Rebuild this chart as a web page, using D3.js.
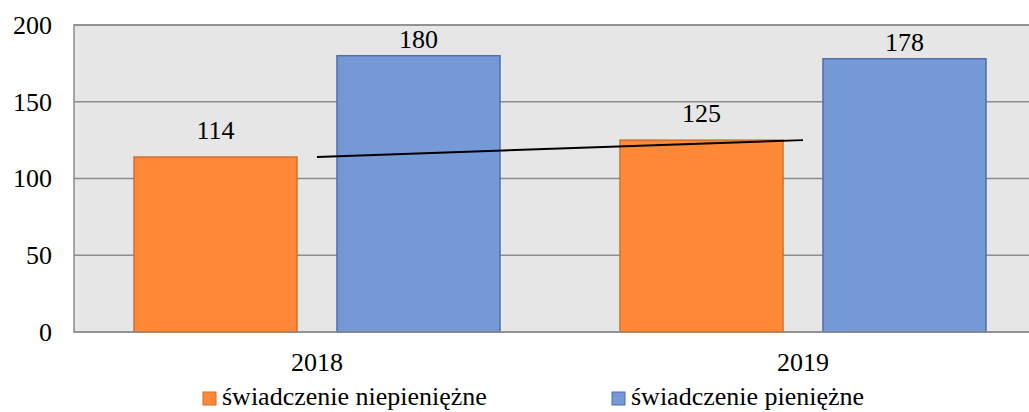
<!DOCTYPE html>
<html>
<head>
<meta charset="utf-8">
<script src="https://cdn.jsdelivr.net/npm/d3@7"></script>
<style>
  html, body { margin: 0; padding: 0; background: #fff; }
  svg { display: block; }
</style>
</head>
<body>
<svg id="chart" width="1029" height="412"></svg>
<script>
// Chart data
const years = ["2018", "2019"];
const seriesNames = ["świadczenie niepieniężne", "świadczenie pieniężne"];
const nonCash = [114, 125];
const cash = [180, 178];
const yTicks = [0, 50, 100, 150, 200];

const colors = ["#FF8936", "#7598D6"];
const strokes = ["#D0702C", "#4F6FAA"];
const labelGap = [18, 8];
const FONT = "Liberation Serif";
const FS = 26;

const svg = d3.select("#chart");
const plot = { left: 74, right: 1046, top: 25, bottom: 332 };

const x = d3.scaleBand().domain(years).range([plot.left, plot.right]);
// two bars of equal width with a 40px gap, 60px from each band edge
const inner = d3.scaleBand().domain([0, 1]).range([60, x.bandwidth() - 60]).paddingInner(40 / 203);
const y = d3.scaleLinear().domain([0, 200]).range([plot.bottom, plot.top]);

// plot background
svg.append("rect")
  .attr("x", plot.left).attr("y", plot.top)
  .attr("width", plot.right - plot.left).attr("height", plot.bottom - plot.top)
  .attr("fill", "#E6E6E6").attr("stroke", "#8C8C8C").attr("stroke-width", 1.5);

// gridlines
svg.append("g").selectAll("line").data(yTicks.filter(d => d > 0)).join("line")
  .attr("x1", plot.left).attr("x2", plot.right)
  .attr("y1", d => y(d)).attr("y2", d => y(d))
  .attr("stroke", "#8C8C8C").attr("stroke-width", 1.5);

// y axis labels
const yAxis = d3.axisLeft(y).tickValues(yTicks).tickSize(0).tickPadding(22);
const yg = svg.append("g").attr("transform", `translate(${plot.left},0)`).call(yAxis);
yg.attr("font-family", FONT).attr("font-size", FS);
yg.select(".domain").remove();
yg.selectAll("text").attr("fill", "#000");

// bars and value labels
const series = [nonCash, cash];
series.forEach((vals, si) => {
  const rows = years.map((yr, i) => ({ yr, v: vals[i] }));
  const g = svg.append("g");
  g.selectAll("rect").data(rows).join("rect")
    .attr("x", d => x(d.yr) + inner(si))
    .attr("y", d => y(d.v))
    .attr("width", inner.bandwidth())
    .attr("height", d => y(0) - y(d.v))
    .attr("fill", colors[si]).attr("stroke", strokes[si]).attr("stroke-width", 1.5);
  g.selectAll("text").data(rows).join("text")
    .attr("x", d => x(d.yr) + inner(si) + inner.bandwidth() / 2)
    .attr("y", d => y(d.v) - labelGap[si])
    .attr("text-anchor", "middle")
    .attr("font-family", FONT)
    .attr("font-size", FS)
    .text(d => d.v);
});

// bottom axis line
svg.append("line")
  .attr("x1", plot.left).attr("x2", plot.right)
  .attr("y1", plot.bottom).attr("y2", plot.bottom)
  .attr("stroke", "#8C8C8C").attr("stroke-width", 1.5);

// linear trend of the non-cash series at category centres
const xs = nonCash.map((_, i) => i);
const mx = d3.mean(xs), my = d3.mean(nonCash);
const slope = d3.sum(xs.map((xi, i) => (xi - mx) * (nonCash[i] - my))) / d3.sum(xs.map(xi => (xi - mx) ** 2));
const icpt = my - slope * mx;
const trend = years.map((yr, i) => [x(yr) + x.bandwidth() / 2, y(icpt + slope * i)]);
svg.append("path")
  .attr("d", d3.line()(trend))
  .attr("stroke", "#000").attr("stroke-width", 2).attr("fill", "none");

// category labels
svg.append("g").selectAll("text").data(years).join("text")
  .attr("x", d => x(d) + x.bandwidth() / 2)
  .attr("y", 371)
  .attr("text-anchor", "middle")
  .attr("font-family", FONT)
  .attr("font-size", FS)
  .text(d => d);

// legend
const legendX = [203, 612];
const lg = svg.append("g");
seriesNames.forEach((name, i) => {
  lg.append("rect")
    .attr("x", legendX[i]).attr("y", 392)
    .attr("width", 13).attr("height", 13)
    .attr("fill", colors[i]).attr("stroke", strokes[i]).attr("stroke-width", 1);
  lg.append("text")
    .attr("x", legendX[i] + 19).attr("y", 405)
    .attr("font-family", FONT)
    .attr("font-size", FS)
    .text(name);
});
</script>
</body>
</html>
